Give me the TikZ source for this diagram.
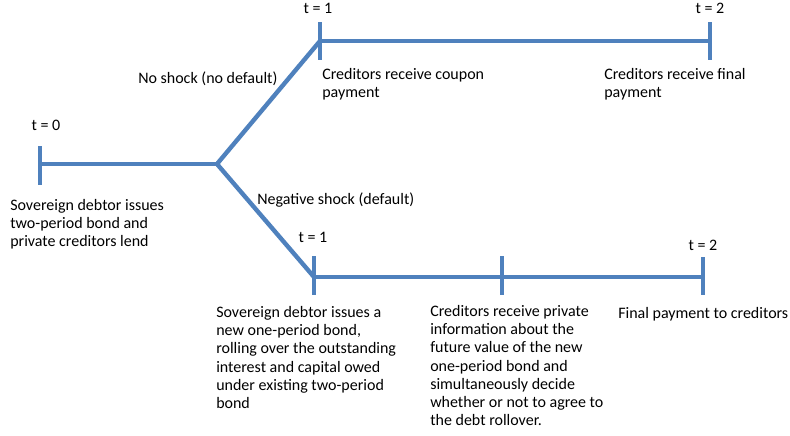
\documentclass[tikz,border=0pt]{standalone}
\usepackage{fontspec}
\setmainfont{Carlito}
\definecolor{tlblue}{HTML}{4F81BD}
\begin{document}
\begin{tikzpicture}[x=0.75pt,y=-0.75pt,
  tl/.style={draw=tlblue,line width=3.3pt},
  lbl/.style={inner sep=0pt,font=\fontsize{12pt}{13.7pt}\selectfont,align=left},
  ]
\useasboundingbox (0,0) rectangle (790,436);
% coordinates
\coordinate (a0) at (40,164);
\coordinate (a0t) at (40,146);
\coordinate (a0b) at (40,185);
\coordinate (j) at (217,164);
\coordinate (u1) at (320,41);
\coordinate (u1t) at (320,22);
\coordinate (u1b) at (320,60);
\coordinate (u2) at (710,41);
\coordinate (u2t) at (710,22);
\coordinate (u2b) at (710,60);
\coordinate (d1) at (314,277);
\coordinate (d1t) at (314,256);
\coordinate (d1b) at (314,295);
\coordinate (dm) at (502,277);
\coordinate (dmt) at (502,256);
\coordinate (dmb) at (502,295);
\coordinate (d2) at (703,277);
\coordinate (d2t) at (703,257);
\coordinate (d2b) at (703,295);
% lines
\draw[tl] (a0t) -- (a0b);
\draw[tl] (a0) -- (j);
\draw[tl,line join=miter] (u1) -- (j) -- (d1);
\draw[tl] (u1) -- (u2);
\draw[tl] (u1t) -- (u1b);
\draw[tl] (u2t) -- (u2b);
\draw[tl] (d1) -- (d2);
\draw[tl] (d1t) -- (d1b);
\draw[tl] (dmt) -- (dmb);
\draw[tl] (d2t) -- (d2b);
% labels
\node[lbl,anchor=base] (t0) at (46,130) {t = 0};
\node[lbl,anchor=north west] (s0) at (10,199) {Sovereign debtor issues\\two-period bond and\\private creditors lend};
\node[lbl,anchor=base west] (ns) at (138,83) {No shock (no default)};
\node[lbl,anchor=base] (tu1) at (318,13) {t = 1};
\node[lbl,anchor=north west] (cc) at (322,68) {Creditors receive coupon\\payment};
\node[lbl,anchor=base] (tu2) at (710,13) {t = 2};
\node[lbl,anchor=north west] (cf) at (604,68) {Creditors receive final\\payment};
\node[lbl,anchor=base west] (neg) at (257,204) {Negative shock (default)};
\node[lbl,anchor=base] (td1) at (313,242) {t = 1};
\node[lbl,anchor=base] (td2) at (703,250) {t = 2};
\node[lbl,anchor=north west] (sd) at (216,306) {Sovereign debtor issues a\\new one-period bond,\\rolling over the outstanding\\interest and capital owed\\under existing two-period\\bond};
\node[lbl,anchor=north west] (cp) at (430,305) {Creditors receive private\\information about the\\future value of the new\\one-period bond and\\simultaneously decide\\whether or not to agree to\\the debt rollover.};
\node[lbl,anchor=base west] (fp) at (618,318) {Final payment to creditors};
\end{tikzpicture}
\end{document}
